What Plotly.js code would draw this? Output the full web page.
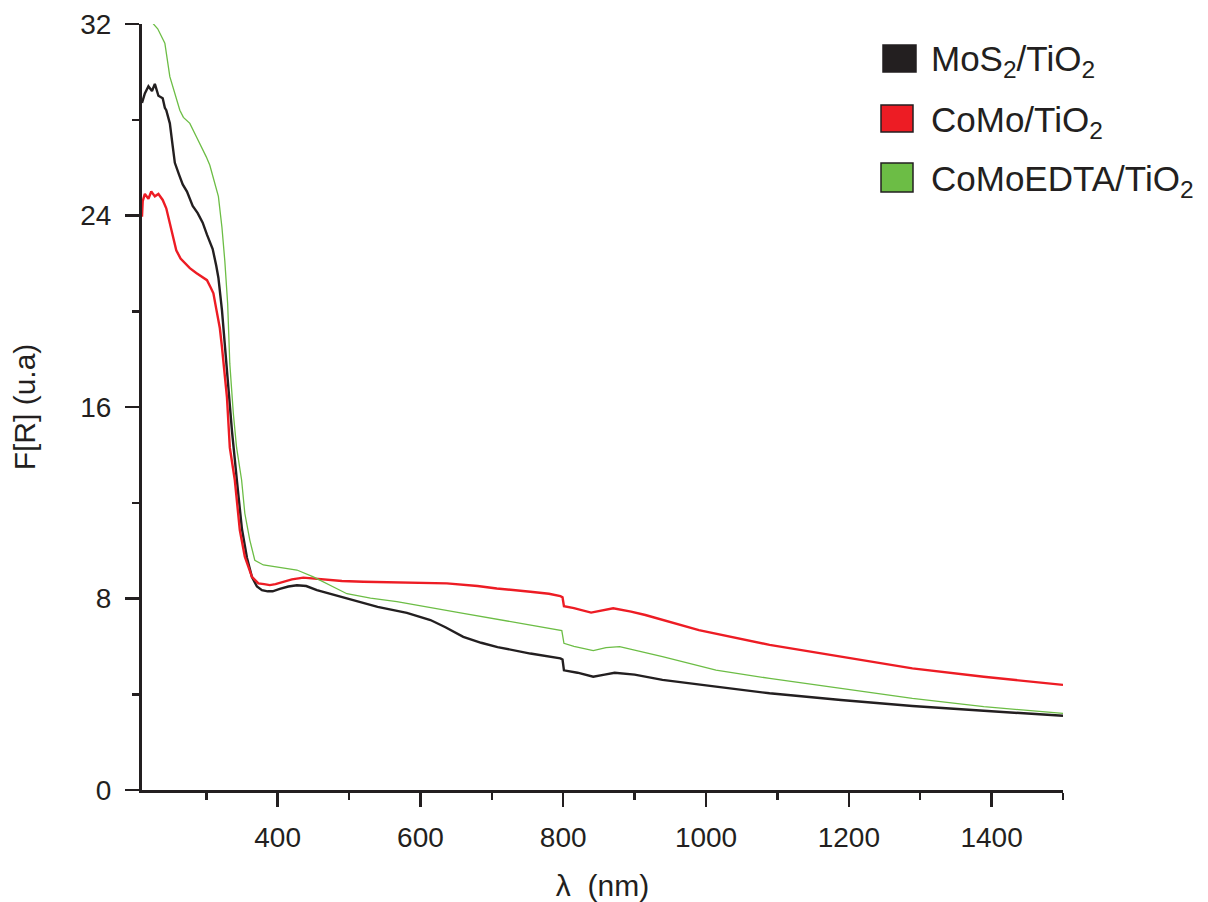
<!DOCTYPE html>
<html>
<head>
<meta charset="utf-8">
<script src="https://cdn.plot.ly/plotly-3.0.1.min.js"></script>
<style>html,body{margin:0;padding:0;background:#fff;}#chart{width:1208px;height:902px;}</style>
</head>
<body>
<div id="chart"></div>
<script>
// Series names
const seriesNames = ["MoS<sub>2</sub>/TiO<sub>2</sub>", "CoMo/TiO<sub>2</sub>", "CoMoEDTA/TiO<sub>2</sub>"];

// MoS2/TiO2 (black)
const mosX = [210,214,219,224,228,233,239,242,244,249,253,256,262,267,273,281,288,295,301,309,314,317,322,326,330,336,343,350,357,364,371,378,386,393,403,415,427,440,455,473,490,511,540,581,614,635,660,685,708,754,780,796,799,801,820,842,858,872,900,939,1014,1089,1189,1289,1389,1500];
const mosY = [28.7,29.1,29.4,29.2,29.5,29.0,28.9,28.5,28.4,27.85,26.9,26.2,25.7,25.3,25.0,24.4,24.1,23.7,23.2,22.6,21.9,21.4,20.05,18.5,17.1,15.0,12.9,10.9,9.7,8.9,8.5,8.35,8.3,8.3,8.4,8.5,8.55,8.52,8.35,8.2,8.05,7.86,7.65,7.4,7.1,6.8,6.4,6.15,5.97,5.7,5.57,5.5,5.45,5.0,4.9,4.73,4.82,4.9,4.82,4.6,4.32,4.04,3.76,3.51,3.31,3.1];

// CoMo/TiO2 (red)
const comoX = [210,211,214,219,223,228,233,239,244,249,253,258,264,270,277,286,295,301,306,310,314,319,322,329,333,340,347,354,364,373,381,389,397,408,420,436,460,490,520,567,637,680,707,754,780,796,799,801,815,839,855,870,895,915,990,1089,1189,1289,1389,1500];
const comoY = [23.95,24.6,24.9,24.7,25.0,24.8,24.9,24.65,24.3,23.7,23.2,22.55,22.2,22.0,21.8,21.6,21.4,21.3,21.0,20.75,20.1,19.3,18.5,16.4,14.3,12.95,10.86,9.75,8.9,8.63,8.6,8.56,8.6,8.7,8.8,8.87,8.8,8.73,8.7,8.66,8.63,8.52,8.42,8.28,8.2,8.1,8.05,7.68,7.6,7.41,7.5,7.59,7.45,7.31,6.68,6.06,5.57,5.08,4.73,4.39];

// CoMoEDTA/TiO2 (green)
const edtaX = [210,220,226,232,237,242,249,253,258,263,268,277,286,293,300,305,310,317,322,326,330,333,338,342.5,349.5,354,361,368,380,403,427,450,473,497,530,567,660,730,798,801,815,842,860,879,900,939,1014,1089,1189,1289,1389,1500];
const edtaY = [33.5,32.6,32.0,31.8,31.5,31.2,29.8,29.4,28.96,28.4,28.1,27.85,27.3,26.9,26.45,26.1,25.6,24.8,23.5,22.1,20.3,17.8,15.7,14.3,12.95,11.56,10.44,9.6,9.4,9.3,9.19,8.9,8.56,8.2,8.02,7.87,7.38,7.03,6.66,6.13,6.0,5.82,5.95,5.99,5.85,5.57,5.01,4.66,4.25,3.83,3.48,3.2];

const colors = ["#231f20", "#ed1c24", "#6cbd45"];

const traces = [
  {x: mosX, y: mosY, name: seriesNames[0], mode: "lines", line: {color: colors[0], width: 2.4}, showlegend: false},
  {x: comoX, y: comoY, name: seriesNames[1], mode: "lines", line: {color: colors[1], width: 2.4}, showlegend: false},
  {x: edtaX, y: edtaY, name: seriesNames[2], mode: "lines", line: {color: colors[2], width: 1.3}, showlegend: false}
];

// legend drawn as squares + labels (paper coords)
const plotL = 142, plotR = 1063, plotT = 24, plotB = 790;
const pw = plotR - plotL, ph = plotB - plotT;
function px2x(p){ return (p - plotL) / pw; }
function py2y(p){ return (plotB - p) / ph; }
const legendRows = [[45,72,883,916],[105,132,881,913],[163,192,881,913]];
const shapes = legendRows.map((r,i) => ({
  type: "rect", xref: "paper", yref: "paper",
  x0: px2x(r[2]), x1: px2x(r[3]), y0: py2y(r[1]), y1: py2y(r[0]),
  fillcolor: colors[i], line: {color: "#231f20", width: 1.5}
}));
const annotations = legendRows.map((r,i) => ({
  xref: "paper", yref: "paper", x: px2x(929), y: py2y((r[0]+r[1])/2 + 3),
  xanchor: "left", yanchor: "middle", showarrow: false, align: "left",
  text: seriesNames[i],
  font: {family: "Liberation Sans, Arial, sans-serif", size: 35, color: "#231f20"}
}));

const axisFont = {family: "Liberation Sans, Arial, sans-serif", size: 28, color: "#231f20"};

const layout = {
  width: 1208, height: 902,
  margin: {l: plotL, r: 1208 - plotR, t: plotT, b: 902 - plotB},
  paper_bgcolor: "#ffffff", plot_bgcolor: "#ffffff",
  showlegend: false,
  xaxis: {
    range: [210, 1500], tick0: 0, dtick: 200,
    showline: true, linewidth: 3, linecolor: "#231f20",
    ticks: "outside", ticklen: 14, tickwidth: 2.5, tickcolor: "#231f20",
    minor: {ticks: "outside", ticklen: 7, tickwidth: 2.5, tickcolor: "#231f20", dtick: 100, tick0: 0},
    showgrid: false, zeroline: false,
    tickfont: axisFont, ticklabelstandoff: 6,
    title: {text: "λ\u00a0 (nm)", font: {family: "Liberation Sans, Arial, sans-serif", size: 30, color: "#231f20"}, standoff: 24}
  },
  yaxis: {
    range: [0, 32], tick0: 0, dtick: 8,
    showline: true, linewidth: 3, linecolor: "#231f20",
    ticks: "outside", ticklen: 14, tickwidth: 2.5, tickcolor: "#231f20",
    minor: {ticks: "outside", ticklen: 7, tickwidth: 2.5, tickcolor: "#231f20", dtick: 4, tick0: 0},
    showgrid: false, zeroline: false,
    tickfont: axisFont, ticklabelstandoff: 8,
    title: {text: "F[R] (u.a)", font: {family: "Liberation Sans, Arial, sans-serif", size: 30, color: "#231f20"}, standoff: 36}
  },
  shapes: shapes,
  annotations: annotations
};

Plotly.newPlot("chart", traces, layout, {staticPlot: true, displayModeBar: false});
</script>
</body>
</html>
